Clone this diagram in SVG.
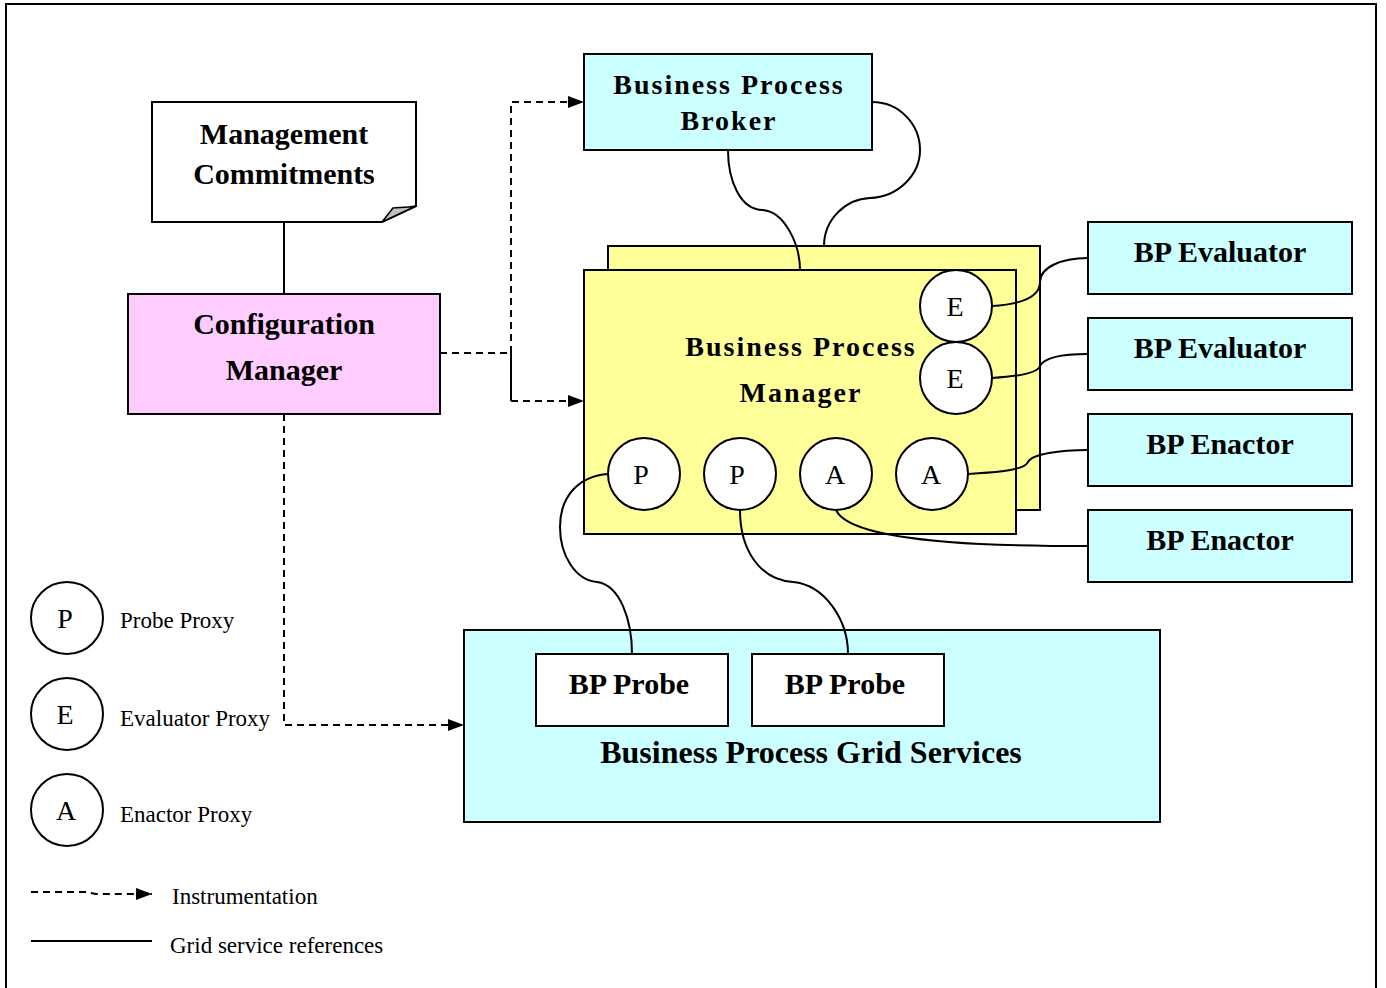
<svg xmlns="http://www.w3.org/2000/svg" width="1386" height="988" viewBox="0 0 1386 988">
  <defs>
    <marker id="arrow" viewBox="0 0 16 12" refX="16" refY="6" markerWidth="16" markerHeight="12" markerUnits="userSpaceOnUse" orient="auto">
      <path d="M0,0 L16,6 L0,12 Z" fill="#000"/>
    </marker>
    <style>
      .box { stroke: #000; stroke-width: 2; }
      .cyan { fill: #CCFFFF; }
      .yellow { fill: #FFFF99; }
      .pink { fill: #FFCCFF; }
      .white { fill: #FFFFFF; }
      .ref { fill: none; stroke: #000; stroke-width: 2; }
      .instr { fill: none; stroke: #000; stroke-width: 2; stroke-dasharray: 7 5; }
      .title { font-family: "Liberation Serif", "Times New Roman", serif; font-weight: bold; font-size: 30px; fill: #000; text-anchor: middle; }
      .wide { font-size: 28px; letter-spacing: 2px; }
      .big { font-size: 32px; }
      .proxy { font-family: "Liberation Serif", "Times New Roman", serif; font-size: 28px; fill: #000; text-anchor: middle; }
      .legend { font-family: "Liberation Serif", "Times New Roman", serif; font-size: 23px; fill: #000; }
    </style>
  </defs>

  <rect x="0" y="0" width="1386" height="988" fill="#FFFFFF"/>
  <!-- frame -->
  <rect x="6" y="4" width="1370" height="1000" fill="none" stroke="#000" stroke-width="2"/>

  <!-- Management Commitments (note) -->
  <g id="management-commitments">
    <path class="box white" d="M152,102 H416 V206 L382,222 H152 Z"/>
    <path d="M382,222 L416,206 C405,208 397,207 393,208 Z" fill="#C0C0C0" stroke="#000" stroke-width="1.5"/>
    <text class="title" x="284" y="144">Management</text>
    <text class="title" x="284" y="184">Commitments</text>
  </g>

  <!-- Configuration Manager -->
  <g id="configuration-manager">
    <rect class="box pink" x="128" y="294" width="312" height="120"/>
    <text class="title" x="284" y="334">Configuration</text>
    <text class="title" x="284" y="380">Manager</text>
  </g>

  <!-- Business Process Broker -->
  <g id="bp-broker">
    <rect class="box cyan" x="584" y="54" width="288" height="96"/>
    <text class="title wide" x="729" y="94">Business Process</text>
    <text class="title wide" x="729" y="130">Broker</text>
  </g>

  <!-- Business Process Manager (stacked) -->
  <g id="bp-manager">
    <rect class="box yellow" x="608" y="246" width="432" height="264"/>
    <rect class="box yellow" x="584" y="270" width="432" height="264"/>
    <text class="title wide" x="801" y="356">Business Process</text>
    <text class="title wide" x="801" y="402">Manager</text>
  </g>

  <!-- evaluators / enactors -->
  <g id="bp-evaluator-1">
    <rect class="box cyan" x="1088" y="222" width="264" height="72"/>
    <text class="title" x="1220" y="262">BP Evaluator</text>
  </g>
  <g id="bp-evaluator-2">
    <rect class="box cyan" x="1088" y="318" width="264" height="72"/>
    <text class="title" x="1220" y="358">BP Evaluator</text>
  </g>
  <g id="bp-enactor-1">
    <rect class="box cyan" x="1088" y="414" width="264" height="72"/>
    <text class="title" x="1220" y="454">BP Enactor</text>
  </g>
  <g id="bp-enactor-2">
    <rect class="box cyan" x="1088" y="510" width="264" height="72"/>
    <text class="title" x="1220" y="550">BP Enactor</text>
  </g>

  <!-- Business Process Grid Services -->
  <g id="bp-grid-services">
    <rect class="box cyan" x="464" y="630" width="696" height="192"/>
    <text class="title big" x="811" y="763">Business Process Grid Services</text>
  </g>
  <g id="bp-probe-1">
    <rect class="box white" x="536" y="654" width="192" height="72"/>
    <text class="title" x="629" y="694">BP Probe</text>
  </g>
  <g id="bp-probe-2">
    <rect class="box white" x="752" y="654" width="192" height="72"/>
    <text class="title" x="845" y="694">BP Probe</text>
  </g>

  <!-- connectors -->
  <g id="connectors">
    <!-- grid service references -->
    <line class="ref" x1="284" y1="222" x2="284" y2="294"/>
    <path class="ref" d="M728,150 C728,180 740,210 763,210 C785,212 800,245 800,270"/>
    <path class="ref" d="M872,102 C900,102 920,125 920,150 C920,175 898,197 870,198 C845,199 824,220 824,246"/>
    <path class="ref" d="M992,306 C1025,304 1040,295 1040,282 C1040,268 1060,258 1088,258"/>
    <path class="ref" d="M992,378 C1025,376 1038,372 1040,366 C1044,358 1060,354 1088,354"/>
    <path class="ref" d="M968,474 C1000,472 1025,470 1028,462 C1032,454 1060,450 1088,450"/>
    <path class="ref" d="M836,510 C845,530 900,540 980,544 C1030,546 1060,546 1088,546"/>
    <path class="ref" d="M608,474 C580,476 560,495 560,527 C560,555 575,580 597,582 C620,585 632,620 632,654"/>
    <path class="ref" d="M740,510 C740,550 760,580 793,582 C825,585 848,620 848,654"/>
    <!-- instrumentation -->
    <path class="instr" d="M440,353 H511"/>
    <path class="instr" d="M511,401 V102 H584" marker-end="url(#arrow)"/>
    <path class="instr" d="M511,353 V401 H584" marker-end="url(#arrow)"/>
    <path class="instr" d="M284,414 V725 H464" marker-end="url(#arrow)"/>
  </g>

  <!-- proxies -->
  <g id="proxy-e1"><circle class="box white" cx="956" cy="306" r="36"/><text class="proxy" x="955" y="316">E</text></g>
  <g id="proxy-e2"><circle class="box white" cx="956" cy="378" r="36"/><text class="proxy" x="955" y="388">E</text></g>
  <g id="proxy-p1"><circle class="box white" cx="644" cy="474" r="36"/><text class="proxy" x="641" y="484">P</text></g>
  <g id="proxy-p2"><circle class="box white" cx="740" cy="474" r="36"/><text class="proxy" x="737" y="484">P</text></g>
  <g id="proxy-a1"><circle class="box white" cx="836" cy="474" r="36"/><text class="proxy" x="835" y="484">A</text></g>
  <g id="proxy-a2"><circle class="box white" cx="932" cy="474" r="36"/><text class="proxy" x="931" y="484">A</text></g>

  <!-- legend -->
  <g id="legend">
    <circle class="box white" cx="67" cy="618" r="36"/>
    <text class="proxy" x="65" y="628">P</text>
    <text class="legend" x="120" y="628">Probe Proxy</text>
    <circle class="box white" cx="67" cy="714" r="36"/>
    <text class="proxy" x="65" y="724">E</text>
    <text class="legend" x="120" y="726">Evaluator Proxy</text>
    <circle class="box white" cx="67" cy="810" r="36"/>
    <text class="proxy" x="66" y="820">A</text>
    <text class="legend" x="120" y="822">Enactor Proxy</text>
    <path class="instr" d="M31,892 H86 L96,894 H152" marker-end="url(#arrow)"/>
    <text class="legend" x="172" y="904">Instrumentation</text>
    <line class="ref" x1="31" y1="941" x2="152" y2="941"/>
    <text class="legend" x="170" y="953">Grid service references</text>
  </g>
</svg>
